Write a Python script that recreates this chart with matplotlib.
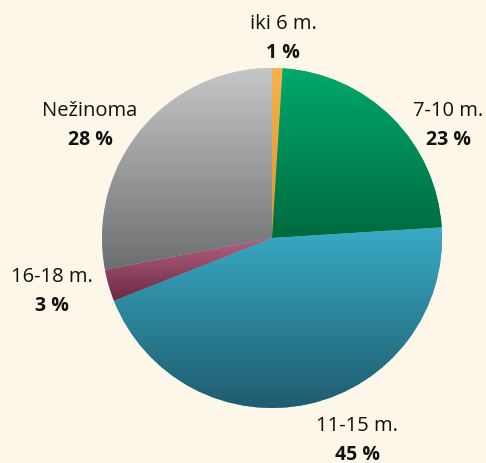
import numpy as np
import matplotlib
matplotlib.use("Agg")
import matplotlib.pyplot as plt
from matplotlib.colors import LinearSegmentedColormap

labels = ["iki 6 m.", "7-10 m.", "11-15 m.", "16-18 m.", "Nežinoma"]
shares = [1, 23, 45, 3, 28]

# top / bottom colour of each slice gradient
tops = ["#f7b34c", "#00a96c", "#39abc6", "#b3607f", "#c4c6c8"]
bottoms = ["#de922c", "#006a3f", "#1f5c6e", "#6b2a45", "#6c6e70"]

# label anchor positions in pixels (x, y from top)
label_pos = [(283, 24), (448, 111), (357, 426), (52, 277), (90, 111)]

bg = "#fdf7ea"
W, H = 486, 463
plt.rcParams["font.family"] = ["Open Sans", "DejaVu Sans"]

fig = plt.figure(figsize=(W / 100, H / 100), dpi=100, facecolor=bg)
ax = fig.add_axes([0, 0, 1, 1])
ax.set_facecolor(bg)

cx, cy, r = 272, H - 238, 170
wedges, _ = ax.pie(shares, startangle=90, counterclock=False,
                   center=(cx, cy), radius=r, colors=tops,
                   wedgeprops=dict(linewidth=0))

# vertical gradient inside each slice
grad = np.linspace(1, 0, 256).reshape(-1, 1)
for w, c1, c2 in zip(wedges, tops, bottoms):
    ext = w.get_path().get_extents()
    cmap = LinearSegmentedColormap.from_list("g", [c2, c1])
    im = ax.imshow(grad, cmap=cmap, aspect="auto", origin="upper",
                   extent=[ext.x0, ext.x1, ext.y0, ext.y1], zorder=2,
                   interpolation="bilinear")
    im.set_clip_path(w)

for (x, y), lab, s in zip(label_pos, labels, shares):
    ax.text(x, H - y, lab, ha="center", va="center", fontsize=14.5, color="#111111")
    ax.text(x, H - y - 29, f"{s} %", ha="center", va="center", fontsize=14,
            fontweight="bold", color="#111111")

ax.set_xlim(0, W)
ax.set_ylim(0, H)
ax.set_aspect("auto")
ax.axis("off")

fig.savefig("out.png", dpi=100, facecolor=bg)
